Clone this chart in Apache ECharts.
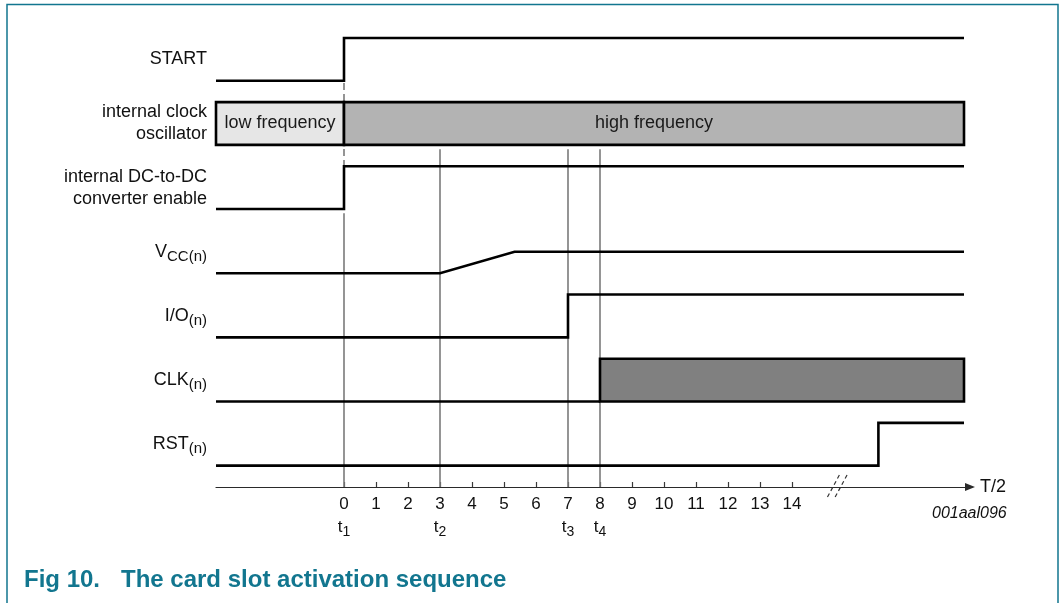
<!DOCTYPE html>
<html><head><meta charset="utf-8">
<script src="https://cdn.jsdelivr.net/npm/echarts@6/dist/echarts.min.js"></script>
<style>html,body{margin:0;padding:0;background:#fff}#c{width:1063px;height:603px}</style>
</head><body><div id="c"></div>
<script>
const FONT = "'Liberation Sans', Arial, Helvetica, sans-serif";
const TEAL = '#12768f';

// ---- data ----
// lane labels, top to bottom
const laneLabels = ['START', 'internal clock\noscillator', 'internal DC-to-DC\nconverter enable',
  '{m|V}{s|CC(n)}', '{m|I/O}{s|(n)}', '{m|CLK}{s|(n)}', '{m|RST}{s|(n)}'];
// waveforms: [time (T/2), level 0..1]
const startWave = [[-4, 0], [0, 0], [0, 1], [19.375, 1]];
const dcdcWave  = [[-4, 0], [0, 0], [0, 1], [19.375, 1]];
const vccWave   = [[-4, 0], [3, 0], [5.33, 0.5], [19.375, 0.5]];
const ioWave    = [[-4, 0], [7, 0], [7, 1], [19.375, 1]];
const clkWave   = [[-4, 0], [8, 0]];
const rstWave   = [[-4, 0], [16.7, 0], [16.7, 1], [19.375, 1]];
// oscillator segments: [label, from, to]
const oscSegments = [['low frequency', -4, 0], ['high frequency', 0, 19.375]];
// CLK active region: [from, to]
const clkActive = [[8, 19.375]];
// time axis
const tickValues = [0, 1, 2, 3, 4, 5, 6, 7, 8, 9, 10, 11, 12, 13, 14];
const eventTimes = [0, 3, 7, 8];
const eventSubs  = ['1', '2', '3', '4'];
const breakAt = 15.45;

// ---- layout helpers (lanes) ----
const LANE = 1.5;              // lane spacing in level units
const nLanes = laneLabels.length;
const laneBase = i => (nLanes - 1 - i) * LANE;
const AXIS_Y = -0.5;
const toLane = (wave, i) => wave.map(p => [p[0], laneBase(i) + p[1]]);

const lineStyle = { color: '#000', width: 2.6, join: 'miter', cap: 'butt' };
function wave(data, i) {
  return { type: 'line', data: toLane(data, i), symbol: 'none', lineStyle, z: 5, animation: false, silent: true };
}
function vline(x, y0, y1, dashed) {
  return { type: 'line', data: [[x, y0], [x, y1]], symbol: 'none', z: 2, animation: false, silent: true,
    lineStyle: { color: '#7a7a7a', width: 1.6, type: dashed ? [7, 4] : 'solid' } };
}

const fills = { 'low frequency': '#e6e6e6', 'high frequency': '#b3b3b3' };

const series = [
  wave(startWave, 0),
  wave(dcdcWave, 2),
  wave(vccWave, 3),
  wave(ioWave, 4),
  wave(clkWave, 5),
  wave(rstWave, 6),
  {
    type: 'custom', z: 4, animation: false, silent: true,
    data: oscSegments.map(s => [s[1], s[2], laneBase(1), laneBase(1) + 1, s[0]]),
    renderItem(params, api) {
      const p0 = api.coord([api.value(0), api.value(3)]);
      const p1 = api.coord([api.value(1), api.value(2)]);
      const name = oscSegments[params.dataIndex][0];
      return { type: 'group', children: [
        { type: 'rect', shape: { x: p0[0], y: p0[1], width: p1[0] - p0[0], height: p1[1] - p0[1] },
          style: { fill: fills[name], stroke: '#000', lineWidth: 2.6 } },
        { type: 'text', style: { text: name, x: (p0[0] + p1[0]) / 2, y: (p0[1] + p1[1]) / 2,
          align: 'center', verticalAlign: 'middle', font: '18px ' + FONT, fill: '#1a1a1a' } }
      ] };
    }
  },
  {
    type: 'custom', z: 4, animation: false, silent: true,
    data: clkActive.map(s => [s[0], s[1], laneBase(5), laneBase(5) + 1]),
    renderItem(params, api) {
      const p0 = api.coord([api.value(0), api.value(3)]);
      const p1 = api.coord([api.value(1), api.value(2)]);
      return { type: 'rect', shape: { x: p0[0], y: p0[1], width: p1[0] - p0[0], height: p1[1] - p0[1] },
        style: { fill: '#808080', stroke: '#000', lineWidth: 2.6 } };
    }
  },
  // event markers
  vline(eventTimes[0], laneBase(0) - 0.05, laneBase(2) + 1, true),
  vline(eventTimes[0], laneBase(2) - 0.1, AXIS_Y, false),
  ...eventTimes.slice(1).map(t => vline(t, laneBase(1) - 0.1, AXIS_Y, false)),
  // axis break marks
  ...[0, 0.24].map(d => ({
    type: 'line', symbol: 'none', clip: false, z: 6, animation: false, silent: true,
    data: [[breakAt + 0.27 - d, AXIS_Y + 0.28], [breakAt - 0.12 - d, AXIS_Y - 0.26]],
    lineStyle: { color: '#333', width: 1.2, type: [4, 3] }
  }))
];

const chart = echarts.init(document.getElementById('c'), null, { renderer: 'canvas' });
chart.setOption({
  backgroundColor: '#fff',
  animation: false,
  grid: { left: 216, width: 756, top: 16.6, height: 470.4, containLabel: false, outerBoundsMode: 'none' },
  xAxis: {
    type: 'value', min: -4, max: 19.625, interval: 1,
    splitLine: { show: false },
    axisLine: { show: true, onZero: false, symbol: ['none', 'triangle'], symbolSize: [8, 10], symbolOffset: [0, -2],
      lineStyle: { color: '#2a2a2a', width: 1.2 } },
    axisTick: { show: true, inside: true, length: 5, customValues: tickValues,
      lineStyle: { color: '#3a3a3a', width: 1.2 } },
    axisLabel: {
      customValues: tickValues, margin: 6, color: '#111', fontSize: 17, fontFamily: FONT, lineHeight: 23,
      formatter: v => {
        const k = eventTimes.indexOf(v);
        return k >= 0 ? v + '\n{t|t}{s|' + eventSubs[k] + '}' : String(v);
      },
      rich: {
        t: { fontSize: 17, fontFamily: FONT, color: '#111', lineHeight: 23 },
        s: { fontSize: 14, fontFamily: FONT, color: '#111', lineHeight: 14, padding: [9, 0, 0, 0] }
      }
    },
    name: 'T/2', nameLocation: 'end', nameGap: 8,
    nameTextStyle: { fontSize: 18, fontFamily: FONT, color: '#111', verticalAlign: 'middle' }
  },
  yAxis: {
    type: 'value', min: AXIS_Y, max: 10.5,
    splitLine: { show: false }, axisLine: { show: false }, axisTick: { show: false },
    axisLabel: {
      customValues: laneLabels.map((_, i) => laneBase(i) + 0.5),
      margin: 9, align: 'right', color: '#111', fontSize: 18, fontFamily: FONT, lineHeight: 22,
      formatter: v => laneLabels[nLanes - 1 - Math.round((v - 0.5) / LANE)],
      rich: {
        m: { fontSize: 18, fontFamily: FONT, color: '#111' },
        s: { fontSize: 15, fontFamily: FONT, color: '#111', lineHeight: 15, padding: [10, 0, 0, 0] }
      }
    }
  },
  graphic: [
    { type: 'rect', shape: { x: 7, y: 4.5, width: 1051, height: 700 }, style: { fill: 'none', stroke: TEAL, lineWidth: 1.5 }, silent: true },
    { type: 'text', left: 932, top: 506, style: { text: '001aal096', font: 'italic 16px ' + FONT, fill: '#111' } },
    { type: 'text', left: 24, top: 568, style: { text: 'Fig 10.', font: 'bold 24px ' + FONT, fill: TEAL } },
    { type: 'text', left: 121, top: 568, style: { text: 'The card slot activation sequence', font: 'bold 24px ' + FONT, fill: TEAL } }
  ],
  series
});
</script>
</body></html>
